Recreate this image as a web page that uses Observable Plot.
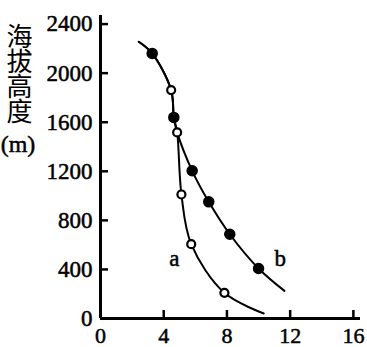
<!DOCTYPE html>
<html>
<head>
<meta charset="utf-8">
<script src="https://cdn.jsdelivr.net/npm/d3@7"></script>
<script src="https://cdn.jsdelivr.net/npm/@observablehq/plot@0.6"></script>
<style>
  html, body { margin: 0; padding: 0; background: #fff; }
  #chart svg { display: block; }
</style>
</head>
<body>
<div id="chart"></div>
<script>
// Tick values
const xTicks = [0, 4, 8, 12, 16];
const yTicks = [0, 400, 800, 1200, 1600, 2000, 2400];

// Measured points (open circles = a, filled = b)
const aX = [4.47, 4.85, 5.12, 5.74, 7.84];
const aY = [1862, 1517, 1011, 606, 209];
const bX = [3.27, 4.64, 5.80, 6.85, 8.18, 10.0];
const bY = [2161, 1639, 1204, 951, 687, 408];

// Fitted curves (knots)
const curveAX = [2.42, 3.27, 4.47, 4.64, 4.85, 5.12, 5.74, 7.84, 10.33];
const curveAY = [2256, 2161, 1862, 1639, 1517, 1011, 606, 209, 41];
const curveBX = [2.42, 3.27, 4.47, 4.64, 4.85, 5.80, 6.85, 8.18, 10.0, 11.64];
const curveBY = [2256, 2161, 1862, 1639, 1517, 1204, 951, 687, 408, 225];

// Curve labels
const curveNames = ["a", "b"];
const labelX = [4.68, 11.38];
const labelY = [490, 490];

const zip = (xs, ys) => xs.map((x, i) => ({x, y: ys[i]}));
const ptsA = zip(aX, aY), ptsB = zip(bX, bY);
const lineA = zip(curveAX, curveAY), lineB = zip(curveBX, curveBY);
const labels = curveNames.map((t, i) => ({t, x: labelX[i], y: labelY[i]}));

const serif = "Liberation Serif";
const fmt = d => String(d);
const ink = {fill: "#000", stroke: "#000", strokeWidth: 0.5};

const chart = Plot.plot({
  width: 367,
  height: 347,
  marginLeft: 100,
  marginRight: 7,
  marginTop: 15,
  marginBottom: 29,
  style: {background: "#fff", color: "#000", fontFamily: serif},
  x: {domain: [0, 16.45]},
  y: {domain: [0, 2470]},
  marks: [
    // inward ticks (library axes, labels drawn separately)
    Plot.axisY({ticks: yTicks.filter(d => d > 0), tickSize: 8, dx: 8, strokeWidth: 2.5, tickFormat: () => "", label: null}),
    Plot.axisX({ticks: xTicks.filter(d => d > 0), tickSize: 8, dy: -8, strokeWidth: 2.5, tickFormat: () => "", label: null}),
    // tick labels
    Plot.text(yTicks, {y: d => d, frameAnchor: "left", dx: -8, textAnchor: "end", lineAnchor: "middle", text: fmt, fontSize: 23, fontFamily: serif, ...ink}),
    Plot.text(xTicks, {x: d => d, frameAnchor: "bottom", dy: 9, textAnchor: "middle", lineAnchor: "top", text: fmt, fontSize: 22, fontFamily: serif, ...ink}),
    // axis lines
    Plot.ruleX([0], {stroke: "#000", strokeWidth: 3}),
    Plot.ruleY([0], {stroke: "#000", strokeWidth: 3}),
    // curves
    Plot.line(lineA, {x: "x", y: "y", curve: "catmull-rom", stroke: "#000", strokeWidth: 2}),
    Plot.line(lineB, {x: "x", y: "y", curve: "catmull-rom", stroke: "#000", strokeWidth: 2}),
    // points
    Plot.dot(ptsB, {x: "x", y: "y", r: 5, fill: "#000", stroke: "#000"}),
    Plot.dot(ptsA, {x: "x", y: "y", r: 4, fill: "#fff", stroke: "#000", strokeWidth: 2.2}),
    // curve labels
    Plot.text(labels, {x: "x", y: "y", text: "t", fontSize: 23, fontFamily: serif, lineAnchor: "middle", ...ink}),
    // y-axis title
    Plot.text(["海\n拔\n高\n度"], {frameAnchor: "top-left", dx: -81, dy: 13, text: d => d, fontSize: 26, lineHeight: 0.96, fontFamily: "Noto Sans CJK SC", fill: "#000", lineAnchor: "top", textAnchor: "middle"}),
    Plot.text(["(m)"], {frameAnchor: "top-left", dx: -82.5, dy: 129, text: d => d, fontSize: 24, fontFamily: serif, lineAnchor: "middle", textAnchor: "middle", ...ink})
  ]
});
document.getElementById("chart").appendChild(chart);
</script>
</body>
</html>
